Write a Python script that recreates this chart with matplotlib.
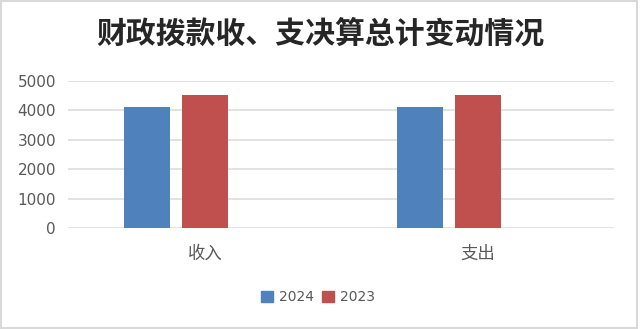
import matplotlib
matplotlib.use('Agg')
import matplotlib.pyplot as plt
import matplotlib.patches as mpatches
import numpy as np

# 数据
categories = ['收入', '支出']
series_names = ['2024', '2023']
values_2024 = [4115, 4115]
values_2023 = [4530, 4530]
yticks = [0, 1000, 2000, 3000, 4000, 5000]
title = '财政拨款收、支决算总计变动情况'

plt.rcParams['font.family'] = ['Noto Sans CJK SC', 'DejaVu Sans']

BLUE = '#4F81BD'
RED = '#C0504D'
GRAY_TXT = '#595959'

fig = plt.figure(figsize=(6.4, 3.29), dpi=100)
ax = fig.add_axes([0.107, 0.306, 0.853, 0.448])

x = np.arange(len(categories))
w = 0.168
step = 0.212
ax.bar(x - step, values_2024, width=w, color=BLUE, label=series_names[0], zorder=3)
ax.bar(x, values_2023, width=w, color=RED, label=series_names[1], zorder=3)

ax.set_xlim(-0.5, len(categories) - 0.5)
ax.set_ylim(0, 5000)
ax.set_yticks(yticks)
ax.set_yticklabels([str(t) for t in yticks], family='DejaVu Sans', fontsize=11, color=GRAY_TXT)
ax.set_xticks(x)
ax.set_xticklabels(categories, fontsize=12.5, color=GRAY_TXT)
ax.tick_params(axis='y', length=0, pad=9)
ax.tick_params(axis='x', length=0, pad=12)
ax.grid(axis='y', color='#DDDDDD', linewidth=1.2, zorder=0)
for s in ax.spines.values():
    s.set_visible(False)

fig.text(0.5, 1 - 34 / 329, title, ha='center', va='center', fontsize=21.5,
         fontweight='bold', color='#262626')

handles = [mpatches.Patch(color=BLUE, label=series_names[0]),
           mpatches.Patch(color=RED, label=series_names[1])]
leg = fig.legend(handles=handles, loc='center', bbox_to_anchor=(0.497, 1 - 297 / 329),
                 ncol=2, frameon=False, handlelength=0.86, handleheight=0.86,
                 handletextpad=0.45, columnspacing=0.6,
                 prop={'family': 'DejaVu Sans', 'size': 10})
for t in leg.get_texts():
    t.set_color(GRAY_TXT)

fig.patches.append(mpatches.Rectangle((0.002, 0.004), 0.994, 0.992, transform=fig.transFigure,
                                      fill=False, edgecolor='#D9D9D9', linewidth=1.5))

fig.savefig('out.png', dpi=100)
